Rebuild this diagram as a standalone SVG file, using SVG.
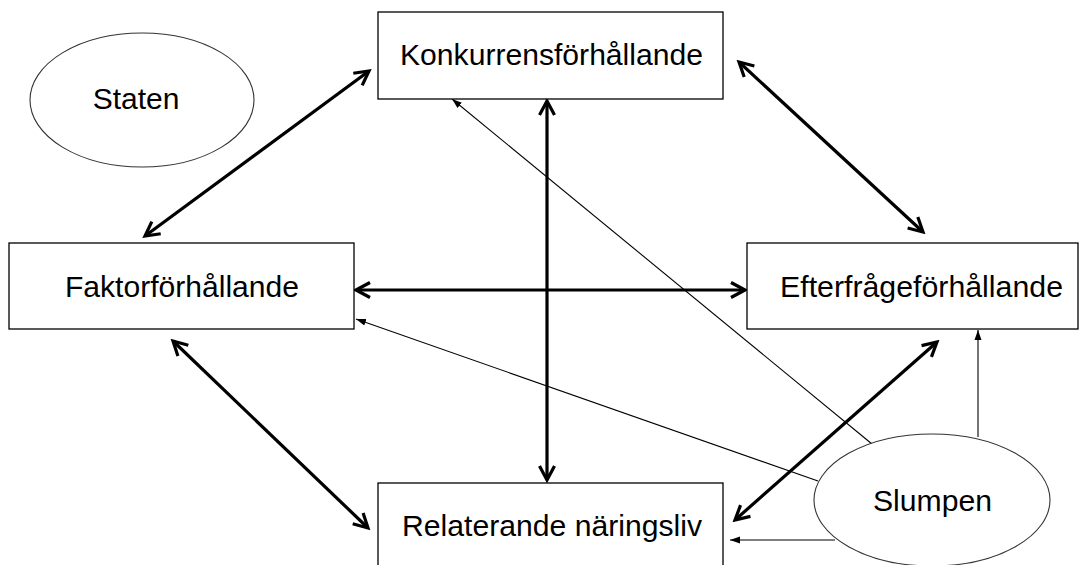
<svg xmlns="http://www.w3.org/2000/svg" width="1081" height="565" viewBox="0 0 1081 565">
<style>
.box{fill:#fff;stroke:#000;stroke-width:1.3}
.ell{fill:#fff;stroke:#333;stroke-width:1.1}
.lbl{font-family:"Liberation Sans",Arial,sans-serif;font-size:30px;fill:#000;text-anchor:middle}
.thick{stroke:#000;stroke-width:3.2;fill:none;marker-start:url(#hb);marker-end:url(#hb)}
.thin{stroke:#000;stroke-width:1.1;fill:none;marker-end:url(#ht)}
</style>
<defs>
<marker id="hb" viewBox="0 0 20 20" refX="17" refY="10" markerWidth="20" markerHeight="20" markerUnits="userSpaceOnUse" orient="auto-start-reverse">
<path d="M3,2.5 L17,10 L3,17.5" fill="none" stroke="#000" stroke-width="3.2" stroke-linejoin="miter"/>
</marker>
<marker id="ht" viewBox="0 0 10 10" refX="10" refY="5" markerWidth="10" markerHeight="10" markerUnits="userSpaceOnUse" orient="auto">
<path d="M0,1.5 L10,5 L0,8.5 Z" fill="#000"/>
</marker>
</defs>
<rect width="1081" height="565" fill="#fff"/>
<g id="connectors">
<line class="thick" x1="369" y1="71" x2="145" y2="236"/>
<line class="thick" x1="739" y1="62" x2="923" y2="232"/>
<line class="thick" x1="547" y1="101" x2="547" y2="480"/>
<line class="thick" x1="356" y1="290" x2="745" y2="290"/>
<line class="thick" x1="173" y1="341" x2="368" y2="528"/>
<line class="thick" x1="937" y1="342" x2="735" y2="520"/>
<line class="thin" x1="872" y1="444" x2="452" y2="99"/>
<line class="thin" x1="818" y1="481" x2="356" y2="319"/>
<line class="thin" x1="978" y1="437" x2="978" y2="330"/>
<line class="thin" x1="835" y1="540" x2="730" y2="540"/>
</g>
<g id="staten">
<ellipse class="ell" cx="142" cy="100" rx="112" ry="67"/>
<text class="lbl" x="136" y="109">Staten</text>
</g>
<g id="konkurrens">
<rect class="box" x="378" y="12" width="345" height="87"/>
<text class="lbl" x="551.5" y="65" textLength="303" lengthAdjust="spacingAndGlyphs">Konkurrensförhållande</text>
</g>
<g id="faktor">
<rect class="box" x="9" y="243" width="345" height="86"/>
<text class="lbl" x="182" y="297" textLength="234" lengthAdjust="spacingAndGlyphs">Faktorförhållande</text>
</g>
<g id="efterfrage">
<rect class="box" x="747" y="243" width="331" height="86"/>
<text class="lbl" x="921.5" y="297" textLength="283" lengthAdjust="spacingAndGlyphs">Efterfrågeförhållande</text>
</g>
<g id="relaterande">
<rect class="box" x="378" y="483" width="345" height="100"/>
<text class="lbl" x="552" y="536" textLength="300" lengthAdjust="spacingAndGlyphs">Relaterande näringsliv</text>
</g>
<g id="slumpen">
<ellipse class="ell" cx="932" cy="500" rx="118" ry="66"/>
<text class="lbl" x="932.5" y="511" textLength="119" lengthAdjust="spacingAndGlyphs">Slumpen</text>
</g>
</svg>
